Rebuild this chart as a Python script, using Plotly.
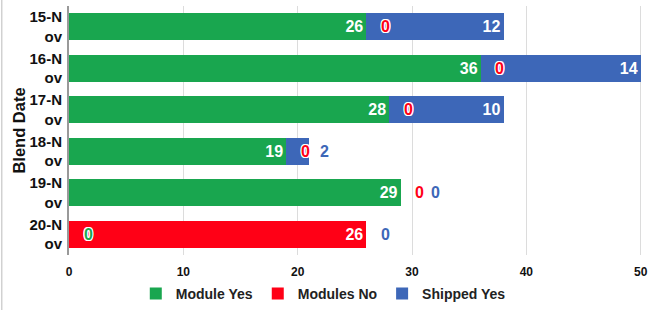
import plotly.graph_objects as go

categories = ["15-N<br>ov", "16-N<br>ov", "17-N<br>ov", "18-N<br>ov", "19-N<br>ov", "20-N<br>ov"]
module_yes = [26, 36, 28, 19, 29, 0]
modules_no = [0, 0, 0, 0, 0, 26]
shipped_yes = [12, 14, 10, 2, 0, 0]
x_ticks = [0, 10, 20, 30, 40, 50]

series = [
    ("Module Yes", module_yes, "#19a64f"),
    ("Modules No", modules_no, "#ff0016"),
    ("Shipped Yes", shipped_yes, "#3d67b8"),
]

FONT = "Liberation Sans, Arial, sans-serif"
OUTLINE = "-1px -1px 0 #fff, 1px -1px 0 #fff, -1px 1px 0 #fff, 1px 1px 0 #fff, 0 1px 0 #fff, 0 -1px 0 #fff, 1px 0 0 #fff, -1px 0 0 #fff"
MIN_INSIDE = 5

fig = go.Figure()
for name, vals, color in series:
    fig.add_trace(go.Bar(
        name=name, y=categories, x=vals, orientation="h",
        marker=dict(color=color, line=dict(width=0)),
        text=[str(v) if v >= MIN_INSIDE else "" for v in vals],
        textposition="inside", insidetextanchor="end",
        textfont=dict(color="white", size=16, family=FONT, weight="bold"),
        constraintext="none",
        hoverinfo="skip",
    ))

# labels for small / zero segments, placed after the segment start
annotations = []
px_per_unit = 574 / 50.0
for i, cat in enumerate(categories):
    start = 0.0
    last_px = -1e9
    total = sum(s[1][i] for s in series)
    for si, (name, vals, color) in enumerate(series):
        v = vals[i]
        if v < MIN_INSIDE:
            if v == 0:
                shift = 19
                base = start
            else:
                shift = 15
                base = start + v
            px = base * px_per_unit + shift
            if px - last_px < 16:
                shift += (last_px + 16) - px
                px = last_px + 16
            last_px = px
            over_bar = px < total * px_per_unit - 2
            f = dict(color=color, size=16, family=FONT, weight="bold")
            if over_bar or (v == 0 and si != 2):
                f["shadow"] = OUTLINE
            annotations.append(dict(
                x=base, y=cat, xref="x", yref="y", text=str(v),
                showarrow=False, xanchor="center", yanchor="middle",
                xshift=shift, font=f,
            ))
        start += v

fig.update_layout(
    barmode="stack",
    bargap=0.35,
    width=652, height=310,
    margin=dict(l=69, r=9, t=6, b=55, autoexpand=False),
    plot_bgcolor="white", paper_bgcolor="white",
    font=dict(family=FONT, color="#222"),
    annotations=annotations,
    legend=dict(
        orientation="h", x=0.443, xanchor="center",
        yref="container", y=0.0, yanchor="bottom",
        font=dict(size=14, family=FONT, color="#222", weight="bold"),
        traceorder="normal", itemwidth=30,
    ),
    xaxis=dict(
        range=[0, 50.2], tickvals=x_ticks,
        showgrid=True, gridcolor="#dcdcdc", gridwidth=1,
        zeroline=False, showline=False,
        tickfont=dict(size=12, family=FONT, color="#111", weight="bold"),
        ticks="outside", ticklen=6, tickcolor="rgba(0,0,0,0)",
    ),
    yaxis=dict(
        autorange="reversed",
        title=dict(text="Blend Date", font=dict(size=16.5, family=FONT, color="#111", weight="bold"), standoff=0),
        tickfont=dict(size=15, family=FONT, color="#111", weight="bold"),
        showline=True, linecolor="#999", linewidth=2,
        ticks="", ticklabelstandoff=2,
    ),
    shapes=[dict(type="line", xref="paper", yref="paper", x0=-0.117, x1=-0.117, y0=-0.3, y1=1.05,
                 line=dict(color="#bbb", width=1))],
)

fig.write_html("out.html")
